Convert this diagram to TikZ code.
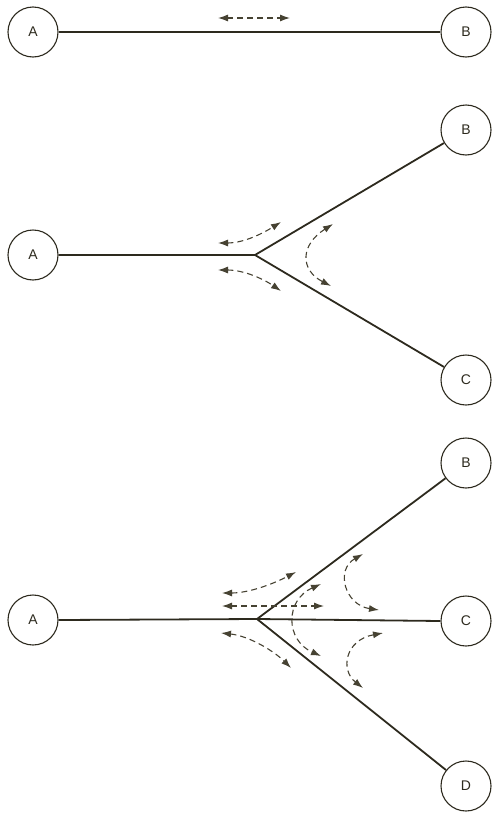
\documentclass[tikz,border=0pt]{standalone}
\usepackage{fontspec}
\setmainfont{Liberation Sans}
\usetikzlibrary{arrows.meta}
\definecolor{ink}{RGB}{45,42,30}
\definecolor{dink}{RGB}{70,66,50}
\tikzset{
  station/.style={circle, draw=ink, line width=1.1pt, minimum size=50pt, inner sep=0pt, font=\fontsize{14}{14}\selectfont, text=ink},
  link/.style={draw=ink, line width=1.8pt},
  flow/.style={draw=dink, line width=1.1pt, dash pattern=on 6pt off 4pt,
    {Latex[length=10pt,width=7pt]}-{Latex[length=10pt,width=7pt]}}
}
\begin{document}
\begin{tikzpicture}[x=1pt,y=-1pt]
\useasboundingbox (0,0) rectangle (493,814);
% top
\node[station] (a1) at (33,32) {A};
\node[station] (b1) at (466,32) {B};
\draw[link] (a1) -- (b1);
\draw[flow] (218,18) -- (290,18);
% middle
\node[station] (a2) at (33,255) {A};
\node[station] (b2) at (466,130) {B};
\node[station] (c2) at (466,380) {C};
\coordinate (j2) at (255,255);
\draw[link] (a2.east) -- (j2) -- (b2);
\draw[link] (j2) -- (c2);
\draw[flow] (218,243) .. controls (245,243) and (265,232) .. (281,222);
\draw[flow] (218,270) .. controls (245,270) and (265,280) .. (281,291);
\draw[flow] (333,224) .. controls (300,245) and (300,270) .. (331,286);
% bottom
\node[station] (a3) at (33,620) {A};
\node[station] (b3) at (466,463) {B};
\node[station] (c3) at (466,621) {C};
\node[station] (d3) at (466,786) {D};
\coordinate (j3) at (257,619);
\draw[link] (a3.east) -- (j3) -- (b3);
\draw[link] (j3) -- (c3.west);
\draw[link] (j3) -- (d3);
\draw[flow] (222,593) .. controls (250,593) and (275,583) .. (296,572);
\draw[flow] (222,606) -- (324,606);
\draw[flow] (221,633) .. controls (250,636) and (275,652) .. (291,668);
\draw[flow] (321,584) .. controls (285,600) and (285,640) .. (321,656);
\draw[flow] (363,554) .. controls (335,570) and (345,605) .. (379,610);
\draw[flow] (383,633) .. controls (345,640) and (340,670) .. (363,688);
\end{tikzpicture}
\end{document}
